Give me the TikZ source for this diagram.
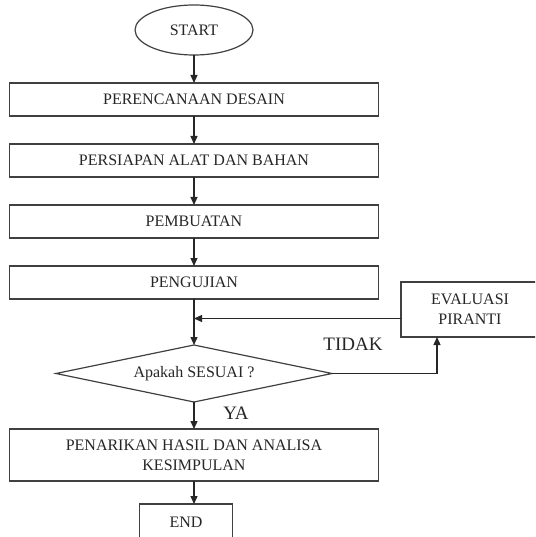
\documentclass[tikz,border=0pt]{standalone}
\usepackage{fontspec}
\setmainfont{Liberation Serif}
\usetikzlibrary{arrows.meta, positioning, shapes.geometric}
\tikzset{
  stepbox/.style={rectangle, draw=black!75, line width=1.2pt, fill=white,
                  text=black!85, font=\fontsize{16}{20}\selectfont,
                  minimum width=369pt, minimum height=33pt,
                  inner sep=2pt, outer sep=0pt, align=center},
  termbox/.style={ellipse, draw=black!75, line width=1.2pt, text=black!85,
                  font=\fontsize{16}{20}\selectfont,
                  minimum width=118pt, minimum height=50pt,
                  inner sep=0pt, outer sep=0pt},
  testbox/.style={diamond, draw=black!75, line width=1.2pt, text=black!85,
                  font=\fontsize{16}{20}\selectfont, aspect=4.8,
                  minimum width=276pt, minimum height=57pt,
                  inner sep=0pt, outer sep=0pt},
  arr/.style={-{Triangle[length=8pt, width=7pt]}, line width=1.2pt, black!85},
  lbl/.style={font=\fontsize{19}{22}\selectfont, text=black!85},
}

\begin{document}
\begin{tikzpicture}[x=1pt, y=-1pt, node distance=28pt]
  \clip (0,0) rectangle (535,537);
  %% Main column
  \node[termbox] (start) at (194,30) {START};
  \node[stepbox, below=of start] (design)  {PERENCANAAN DESAIN};
  \node[stepbox, below=of design] (prep)   {PERSIAPAN ALAT DAN BAHAN};
  \node[stepbox, below=of prep]   (build)  {PEMBUATAN};
  \node[stepbox, below=of build]  (trial)  {PENGUJIAN};
  \node[testbox, below=46pt of trial] (test) {Apakah SESUAI ?};
  \node[stepbox, below=27pt of test, minimum height=52pt] (concl)
    {PENARIKAN HASIL DAN ANALISA\\KESIMPULAN};
  \node[stepbox, below=23pt of concl, xshift=-8pt, minimum width=93pt,
        minimum height=36pt] (finish) {END};
  \foreach \a/\b in {start/design,design/prep,prep/build,build/trial,
                     trial/test,test/concl}
    \draw[arr] (\a) -- (\b);
  \draw[arr] (concl.south) -- (concl.south |- finish.north);
  %% Feedback loop
  \node[stepbox, minimum width=138pt, minimum height=55pt] (eval)
    at (470,309.5) {EVALUASI\\PIRANTI};
  \coordinate (join) at ([yshift=-9pt]eval.west -| test.north);
  \draw[arr] ([yshift=-9pt]eval.west) -- (join);
  \draw[arr] (test.east) -| ([xshift=36pt]eval.south west);
  %% Branch labels
  \node[lbl] (no)  at (353,344) {TIDAK};
  \node[lbl] (yes) at (236,413) {YA};
\end{tikzpicture}
\end{document}
